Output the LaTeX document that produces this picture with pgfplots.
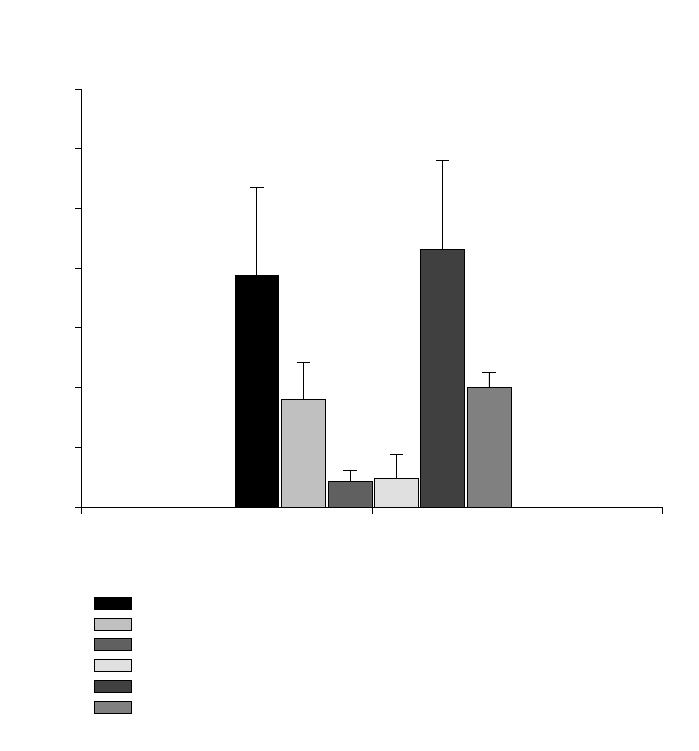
\documentclass[border=0pt]{standalone}
\usepackage{pgfplots}
\pgfplotsset{compat=1.18}
\definecolor{cA}{HTML}{000000}
\definecolor{cB}{HTML}{C0C0C0}
\definecolor{cC}{HTML}{606060}
\definecolor{cD}{HTML}{E0E0E0}
\definecolor{cE}{HTML}{404040}
\definecolor{cF}{HTML}{808080}
\begin{document}
\begin{tikzpicture}
\path[use as bounding box] (-61.5pt,-183pt) rectangle (462.75pt,380.25pt);
\begin{axis}[
  at={(0,0)}, anchor=south west,
  scale only axis, width=435.75pt, height=313.5pt,
  xmin=0, xmax=2, ymin=0, ymax=7,
  xtick={0,1,2}, ytick={0,...,7},
  xticklabels={}, yticklabels={},
  axis lines=left, axis line style={-, line width=0.75pt},
  tick align=outside, major tick length=5pt,
  tick style={black, line width=0.75pt},
  ybar, bar width=0.151, bar shift=0pt,
  every axis plot/.append style={draw=black, line width=0.6pt},
  error bars/y dir=plus, error bars/y explicit,
  error bars/error mark options={black, line width=0.6pt, mark size=5pt, rotate=90},
  error bars/error bar style={black, line width=0.6pt},
  legend style={at={(0.0207,-0.2144)}, anchor=north west, draw=none, fill=none,
    inner sep=0pt, row sep=6pt, nodes={inner sep=0pt}},
  legend cell align=left,
  legend image code/.code={\draw[#1, line width=0.6pt] (0pt,-4.5pt) rectangle (27.75pt,4.5pt);},
]
\addplot[fill=cA] coordinates {(0.602,3.886) +- (0,1.47)};
\addlegendentry{\mbox{}}
\addplot[fill=cB] coordinates {(0.762,1.81) +- (0,0.62)};
\addlegendentry{\mbox{}}
\addplot[fill=cC] coordinates {(0.923,0.435) +- (0,0.185)};
\addlegendentry{\mbox{}}
\addplot[fill=cD] coordinates {(1.083,0.486) +- (0,0.40)};
\addlegendentry{\mbox{}}
\addplot[fill=cE] coordinates {(1.241,4.32) +- (0,1.49)};
\addlegendentry{\mbox{}}
\addplot[fill=cF] coordinates {(1.401,2.01) +- (0,0.25)};
\addlegendentry{\mbox{}}
\end{axis}
\end{tikzpicture}
\end{document}
